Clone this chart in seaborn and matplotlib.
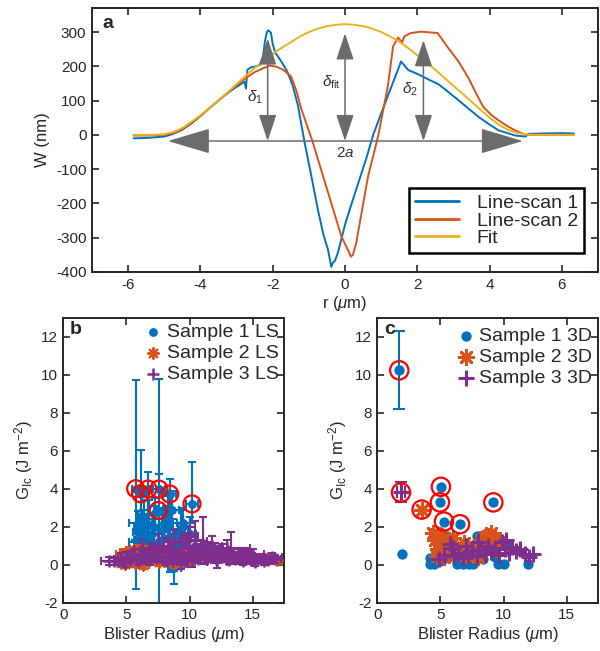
import matplotlib
matplotlib.use("Agg")
import matplotlib.pyplot as plt
from matplotlib.patches import FancyArrowPatch
import pandas as pd
import seaborn as sns

sns.set_theme(style="ticks")
plt.rcParams["font.family"] = ["Liberation Sans", "DejaVu Sans"]
plt.rcParams["mathtext.fontset"] = "custom"
plt.rcParams["mathtext.rm"] = "Liberation Sans"
plt.rcParams["mathtext.it"] = "Liberation Sans:italic"
plt.rcParams["mathtext.bf"] = "Liberation Sans:bold"
plt.rcParams["axes.unicode_minus"] = False
plt.rcParams["xtick.direction"] = "in"
plt.rcParams["ytick.direction"] = "in"
plt.rcParams["axes.edgecolor"] = "#262626"
plt.rcParams["axes.linewidth"] = 1.4

# colores estilo matlab
AZUL = "#0072BD"
LARANJA = "#D95319"
AMARELO = "#EDB120"
ROXO = "#7E2F8E"

# ---- painel a: perfis ----
fit_r = [-5.85, -5.25, -5.0, -4.75, -4.5, -4.25, -4.0, -3.75, -3.5, -3.25, -3.0, -2.75, -2.5,
         -2.25, -2.0, -1.75, -1.5, -1.25, -1.0, -0.75, -0.5, -0.25, 0.0, 0.25, 0.5, 0.75, 1.0,
         1.25, 1.5, 1.75, 2.0, 2.25, 2.5, 2.75, 3.0, 3.25, 3.5, 3.75, 4.0, 4.25, 4.5, 4.75,
         5.0, 5.25, 6.33]
fit_w = [0, 0, 2, 8, 20, 38, 57, 78, 100, 124, 148, 172, 195,
         216, 236, 254, 270, 287, 300, 310, 317, 321, 323, 321, 317, 310, 300,
         287, 272, 253, 232, 211, 190, 166, 143, 120, 97, 73, 50, 30, 15, 6,
         1, 0, 0]

scan1_r = [-5.85, -5.5, -5.0, -4.75, -4.5, -4.25, -4.0, -3.75, -3.5, -3.25, -3.0, -2.85, -2.78,
           -2.74, -2.70, -2.6, -2.45, -2.35, -2.28, -2.22, -2.16, -2.12, -2.05, -2.0, -1.93,
           -1.85, -1.75, -1.6, -1.45, -1.3, -1.12, -0.95, -0.75, -0.6, -0.47, -0.38, -0.33,
           -0.28, -0.2, 0.0, 0.2, 0.4, 0.6, 0.78, 1.0, 1.2, 1.4, 1.55, 1.75, 2.0, 2.3, 2.58,
           2.8, 3.14, 3.4, 3.7, 4.0, 4.25, 4.5, 4.71, 4.99, 5.08, 5.5, 6.0, 6.33]
scan1_w = [-10, -9, -5, 3, 15, 33, 55, 78, 100, 122, 140, 150, 155,
           135, 190, 197, 200, 205, 215, 270, 300, 305, 298, 265, 240,
           228, 212, 185, 145, 85, -21, -110, -218, -290, -335, -385, -372,
           -368, -345, -262, -195, -130, -65, 0, 62, 118, 172, 214, 189, 178, 162, 148,
           130, 101, 78, 52, 30, 13, 5, -2, -5, 3, 4, 5, 4]

scan2_r = [-5.85, -5.5, -5.0, -4.75, -4.5, -4.25, -4.0, -3.75, -3.5, -3.25, -3.0, -2.75, -2.5,
           -2.25, -2.09, -1.9, -1.75, -1.65, -1.49, -1.35, -1.21, -0.89, -0.47, -0.1, 0.1,
           0.16, 0.22, 0.31, 0.64, 0.92, 1.19, 1.33, 1.47, 1.58, 1.64, 1.82, 2.1, 2.56,
           2.86, 3.14, 3.42, 3.65, 3.83, 4.05, 4.25, 4.5, 4.71, 4.99, 5.5, 6.0, 6.33]
scan2_w = [-2, -2, 0, 5, 17, 35, 55, 78, 100, 122, 145, 165, 183,
           195, 202, 199, 192, 185, 170, 130, 76, -22, -168, -296, -340,
           -355, -350, -315, -120, -2, 145, 258, 284, 270, 287, 297, 301, 297,
           253, 214, 165, 116, 81, 58, 42, 25, 13, 0, 0, 0, 0]

# ---- painel b: line-scan ----
b1_x = [5.73, 7.55, 6.13, 6.70, 7.57, 8.43, 10.19, 5.8, 6.0, 6.3, 6.5, 6.8, 7.0, 7.2, 7.5,
        7.8, 8.0, 8.3, 8.7, 9.0, 9.3, 9.6, 10.0, 10.4, 6.6, 8.5, 7.2, 9.8, 6.2, 8.8,
        5.9, 6.4, 6.9, 7.3, 7.7, 8.1, 8.6, 9.1, 9.5, 5.7, 6.1]
b1_y = [4.0, 2.85, 3.73, 3.98, 3.98, 3.72, 3.2, 1.2, 1.3, 2.0, 1.5, 2.1, 1.6, 2.0, 1.2,
        1.8, 1.4, 2.2, 1.5, 1.1, 1.9, 1.3, 1.6, 1.0, 0.9, 0.5, 0.4, 0.2, 0.2, -0.2,
        2.2, 2.5, 1.0, 2.7, 0.8, 2.4, 2.9, 1.6, 2.2, 0.8, 1.7]
b1_ylo = [5.3, 5.2, 1.6, 1.3, 1.0, 4.1, 1.0, 0.6, 0.8, 0.9, 0.7, 1.2, 0.8, 1.1, 0.9,
          0.8, 1.0, 1.4, 0.9, 0.6, 1.0, 0.7, 0.9, 0.5, 0.6, 0.5, 0.4, 0.3, 0.4, 0.8,
          0.6, 0.9, 0.5, 0.8, 0.4, 0.7, 1.0, 0.6, 0.8, 0.5, 0.7]
b1_yhi = [5.74, 6.9, 2.3, 0.9, 0.8, 0.8, 2.2, 0.6, 0.8, 0.9, 0.7, 1.3, 0.8, 1.1, 0.9,
          0.8, 1.0, 1.4, 0.9, 0.6, 1.0, 0.7, 0.9, 0.5, 0.6, 0.5, 0.4, 0.3, 0.4, 0.8,
          0.6, 0.9, 0.5, 0.8, 0.4, 0.7, 1.0, 0.6, 0.8, 0.5, 0.7]
b1_xerr = [0.3, 0.3, 0.4, 0.4, 0.5, 0.5, 0.5, 0.6, 0.4, 0.7, 0.5, 0.5, 0.6, 0.4, 0.5,
           0.6, 0.5, 0.7, 0.4, 0.5, 0.6, 0.4, 0.5, 0.5, 0.4, 0.5, 0.4, 0.5, 0.4, 0.5,
           0.7, 0.4, 0.5, 0.6, 0.4, 0.5, 0.6, 0.4, 0.5, 0.4, 0.6]

b2_x = [4.4, 4.7, 5.0, 5.2, 5.5, 5.7, 6.0, 6.2, 6.5, 6.8, 7.0, 7.3, 7.6, 7.9, 8.2,
        8.5, 8.8, 9.1, 9.4, 9.8, 10.2, 4.9, 5.4, 6.3, 7.1, 8.0, 9.0, 14.8, 16.2, 16.9,
        4.6, 5.1, 5.8, 6.6, 7.4, 8.3, 8.9, 9.6]
b2_y = [0.3, 0.55, 0.2, 0.65, 0.4, 0.1, 0.5, 0.3, 0.7, 0.25, 0.45, 0.6, 0.15, 0.4, 0.55,
        0.3, 0.1, 0.45, 0.35, 0.2, 0.3, 0.05, 0.6, 0.0, 0.7, 0.2, 0.5, 0.3, 0.35, 0.25,
        0.1, 0.45, 0.75, 0.5, 0.3, 0.65, 0.2, 0.55]
b2_yerr = [0.3, 0.25, 0.2, 0.3, 0.25, 0.2, 0.3, 0.25, 0.3, 0.2, 0.25, 0.3, 0.2, 0.25, 0.3,
           0.2, 0.25, 0.3, 0.2, 0.25, 0.3, 0.2, 0.3, 0.25, 0.3, 0.2, 0.25, 0.15, 0.2, 0.15,
           0.2, 0.25, 0.3, 0.2, 0.25, 0.3, 0.2, 0.25]
b2_xerr = [0.4, 0.5, 0.4, 0.6, 0.5, 0.4, 0.6, 0.5, 0.4, 0.5, 0.6, 0.5, 0.4, 0.5, 0.6,
           0.5, 0.4, 0.5, 0.6, 0.5, 0.4, 0.5, 0.6, 0.5, 0.4, 0.5, 0.6, 0.5, 0.6, 0.4,
           0.5, 0.4, 0.6, 0.5, 0.4, 0.5, 0.6, 0.5]

b3_x = [4.0, 4.6, 4.9, 5.3, 5.9, 6.4, 6.9, 7.4, 7.9, 8.4, 8.9, 9.4, 9.9, 10.4, 10.9, 11.4,
        11.9, 12.4, 12.95, 13.4, 13.9, 14.4, 14.9, 15.4, 15.9, 16.5, 6.2, 7.6, 8.8, 9.7,
        10.45, 11.1, 11.8, 12.6, 13.3, 14.1, 9.3, 10.2, 12.2, 15.0,
        3.6, 5.0, 5.6, 6.6, 7.2, 8.1, 8.6, 9.1, 9.6, 10.1, 10.7, 11.2, 11.6, 12.1, 12.7,
        13.1, 13.6, 14.2, 14.7, 15.2, 15.7, 16.2, 16.8, 7.0, 8.3, 11.0, 12.0, 13.8, 10.0]
b3_y = [0.17, 0.3, 0.1, 0.4, 0.2, 0.5, 0.3, 0.6, 0.4, 0.7, 0.5, 0.9, 0.6, 0.8, 0.5, 0.7,
        0.4, 0.6, 0.9, 0.5, 0.35, 0.45, 0.25, 0.3, 0.2, 0.4, 0.8, 1.0, 1.2, 1.27,
        1.3, 1.1, 1.0, 0.7, 0.6, 0.5, 0.05, 0.2, 0.15, 0.55,
        0.2, 0.35, 0.55, 0.25, 0.45, 0.2, 0.35, 0.3, 0.25, 0.45, 0.3, 0.35, 0.55, 0.3, 0.45,
        0.25, 0.3, 0.2, 0.4, 0.15, 0.3, 0.25, 0.3, 0.75, 0.9, 0.65, 0.75, 0.6, 1.5]
b3_ylo = [0.2, 0.3, 0.2, 0.3, 0.2, 0.4, 0.3, 0.4, 0.3, 0.5, 0.4, 0.5, 0.4, 0.5, 0.4, 0.5,
          0.3, 0.4, 0.4, 0.3, 0.3, 0.3, 0.2, 0.2, 0.2, 0.2, 0.5, 0.6, 0.6, 0.4,
          0.6, 0.5, 0.5, 0.4, 0.4, 0.3, 0.3, 0.3, 0.3, 0.3,
          0.2, 0.3, 0.3, 0.2, 0.3, 0.2, 0.3, 0.2, 0.2, 0.3, 0.2, 0.3, 0.3, 0.2, 0.3,
          0.2, 0.2, 0.2, 0.3, 0.2, 0.2, 0.2, 0.2, 0.4, 0.5, 0.4, 0.4, 0.3, 0.5]
b3_yhi = [0.2, 0.3, 0.2, 0.3, 0.2, 0.4, 0.3, 0.4, 0.3, 0.5, 0.4, 0.5, 0.4, 0.5, 0.4, 0.5,
          0.3, 0.4, 0.4, 0.3, 0.3, 0.3, 0.2, 0.2, 0.2, 0.2, 0.5, 0.6, 0.6, 0.4,
          1.0, 1.4, 0.5, 0.4, 1.1, 0.3, 0.3, 0.3, 0.3, 0.3,
          0.2, 0.3, 0.3, 0.2, 0.3, 0.2, 0.3, 0.2, 0.2, 0.3, 0.2, 0.3, 0.3, 0.2, 0.3,
          0.2, 0.2, 0.2, 0.3, 0.2, 0.2, 0.2, 0.2, 0.4, 0.5, 0.4, 0.4, 0.3, 0.5]
b3_xerr = [1.0, 0.6, 0.5, 0.7, 0.6, 0.8, 0.7, 0.9, 0.6, 0.8, 0.7, 0.9, 0.8, 1.0, 0.7, 0.9,
           0.8, 1.0, 1.85, 0.8, 0.9, 0.8, 0.7, 0.8, 0.6, 0.8, 0.6, 0.7, 0.8, 1.7,
           0.6, 0.7, 0.8, 0.9, 0.7, 0.8, 0.6, 0.7, 0.8, 0.9,
           0.6, 0.7, 0.5, 0.8, 0.6, 0.7, 0.9, 0.6, 0.8, 0.7, 0.9, 0.6, 0.8, 0.7, 0.9,
           0.6, 0.8, 0.7, 0.6, 0.8, 0.7, 0.6, 0.45, 0.9, 1.0, 0.8, 1.1, 0.9, 0.7]

b_circ_x = [5.73, 6.13, 6.70, 7.57, 8.43, 7.52, 10.19]
b_circ_y = [4.0, 3.73, 3.98, 3.98, 3.72, 2.85, 3.2]

# ---- painel c: 3D ----
c1_x = [1.74, 1.98, 5.04, 4.96, 5.28, 6.55, 9.19, 5.49, 7.87, 4.17, 4.5, 5.0, 6.28, 6.8, 7.3,
        7.6, 9.58, 10.0, 11.96, 4.2, 4.6, 5.4, 6.0, 6.5, 7.5, 8.4, 9.3, 8.3, 10.3]
c1_y = [10.23, 0.54, 4.1, 3.28, 2.27, 2.13, 3.28, 1.5, 1.5, 0.05, 0.05, 0.2, 0.05, 0.05, 0.05,
        0.05, 0.05, 0.05, 0.05, 0.35, 0.4, 0.35, 0.4, 0.3, 0.4, 0.3, 0.4, 1.45, 1.0]

c2_x = [3.51, 4.43, 4.7, 5.0, 4.6, 4.9, 5.2, 4.8, 5.1, 4.7, 5.3, 5.6, 5.9, 6.3, 6.6, 6.9, 7.2,
        7.0, 7.5, 7.9, 8.2, 8.5, 8.8, 9.0, 9.3, 9.6, 8.0, 6.0, 5.5, 8.6, 9.4]
c2_y = [2.9, 1.66, 1.6, 1.55, 1.3, 1.2, 1.0, 0.8, 0.6, 0.45, 0.4, 0.75, 0.6, 0.85, 0.7, 1.15,
        1.0, 0.5, 0.6, 0.85, 1.3, 1.45, 1.5, 1.66, 1.4, 1.2, 0.4, 1.4, 1.2, 0.9, 0.8]

c3_x = [1.88, 4.9, 5.3, 5.76, 6.1, 6.4, 6.8, 7.2, 7.5, 7.9, 8.2, 8.5, 8.8, 9.0, 9.3, 9.6, 9.9,
        10.1, 10.4, 10.7, 11.0, 11.3, 11.7, 12.0, 12.3, 7.0, 8.0, 10.2, 6.0]
c3_y = [3.8, 0.3, 0.5, 1.1, 0.45, 0.6, 0.35, 0.5, 0.7, 0.45, 0.8, 0.55, 1.0, 0.65, 0.9, 0.5,
        1.2, 0.8, 0.6, 0.95, 0.7, 0.85, 0.55, 0.4, 0.55, 1.0, 1.2, 1.3, 0.9]

c_circ_x = [1.74, 1.88, 3.51, 5.04, 4.96, 5.28, 6.55, 9.19]
c_circ_y = [10.23, 3.8, 2.9, 4.1, 3.28, 2.27, 2.13, 3.28]

ASTERISCO = (8, 2, 0)

fig = plt.figure(figsize=(6.0, 6.51), dpi=100)
ax_a = fig.add_axes([0.1533, 0.5822, 0.8434, 0.4055])
ax_b = fig.add_axes([0.1055, 0.0742, 0.3683, 0.4378])
ax_c = fig.add_axes([0.6288, 0.0742, 0.3683, 0.4378])


def caixa(ax):
    # estilo matlab: box fechado, ticks para dentro nos 4 lados
    for s in ax.spines.values():
        s.set_visible(True)
    ax.tick_params(top=True, right=True, length=5, width=1.2, labelsize=11, pad=4,
                   colors="#262626")


# painel a
perfis = pd.concat([
    pd.DataFrame({"r": scan1_r, "W": scan1_w, "serie": "Line-scan 1"}),
    pd.DataFrame({"r": scan2_r, "W": scan2_w, "serie": "Line-scan 2"}),
    pd.DataFrame({"r": fit_r, "W": fit_w, "serie": "Fit"}),
])
sns.lineplot(data=perfis, x="r", y="W", hue="serie", sort=False, estimator=None,
             palette=[AZUL, LARANJA, AMARELO], linewidth=1.4, ax=ax_a)

cinza = "#6b6b6b"
y_base = -18
for xa, ytop in [(-2.14, 281), (0.0, 296), (2.17, 276)]:
    ax_a.add_patch(FancyArrowPatch((xa, y_base), (xa, ytop),
                                   arrowstyle="<|-|>,head_length=1.65,head_width=0.55",
                                   mutation_scale=10, color=cinza, lw=1.1,
                                   shrinkA=0, shrinkB=0, zorder=5))
ax_a.add_patch(FancyArrowPatch((-4.9, y_base), (4.92, y_base),
                               arrowstyle="<|-|>,head_length=2.7,head_width=0.8",
                               mutation_scale=10, color=cinza, lw=1.1,
                               shrinkA=0, shrinkB=0, zorder=5))
ax_a.text(-2.28, 110, r"$\delta_1$", ha="right", va="center", fontsize=11, color="#333333")
ax_a.text(-0.12, 154, r"$\delta_{\rm fit}$", ha="right", va="center", fontsize=11, color="#333333")
ax_a.text(2.02, 132, r"$\delta_2$", ha="right", va="center", fontsize=11, color="#333333")
ax_a.text(0.0, -52, r"2$a$", ha="center", va="center", fontsize=11, color="#333333")

ax_a.set_xlim(-7, 7)
ax_a.set_ylim(-400, 370)
ax_a.set_xticks(range(-6, 7, 2))
ax_a.set_yticks(range(-400, 301, 100))
ax_a.set_xlabel(r"r ($\mu$m)", fontsize=12, labelpad=2)
ax_a.set_ylabel("W (nm)", fontsize=12, labelpad=4)
caixa(ax_a)
ax_a.text(0.02, 0.975, "a", transform=ax_a.transAxes, ha="left", va="top",
          fontsize=14, fontweight="bold")
leg = ax_a.legend(loc="lower right", bbox_to_anchor=(0.972, 0.072), fontsize=14,
                  handlelength=2.3, handletextpad=0.9, labelspacing=0.0, borderpad=0.3,
                  borderaxespad=0, fancybox=False, framealpha=1)
leg.get_frame().set_edgecolor("black")
leg.get_frame().set_linewidth(1.8)
for ln in leg.get_lines():
    ln.set_linewidth(2.0)


def circulos(ax, xs, ys, tam):
    sns.scatterplot(x=xs, y=ys, marker="o", s=tam, facecolor="none", edgecolor="#FF0000",
                    linewidth=1.6, ax=ax, zorder=10, legend=False)


# painel b
ax_b.errorbar(b1_x, b1_y, yerr=[b1_ylo, b1_yhi], xerr=b1_xerr, fmt="none", ecolor=AZUL,
              elinewidth=1.5, capsize=3, capthick=1.5, zorder=2)
sns.scatterplot(x=b1_x, y=b1_y, marker="o", s=40, color=AZUL, edgecolor=AZUL, linewidth=0,
                label="Sample 1 LS", ax=ax_b, zorder=3)
ax_b.errorbar(b2_x, b2_y, yerr=b2_yerr, xerr=b2_xerr, fmt="none", ecolor=LARANJA,
              elinewidth=1.5, capsize=3, capthick=1.5, zorder=4)
sns.scatterplot(x=b2_x, y=b2_y, marker=ASTERISCO, s=60, color=LARANJA, edgecolor=LARANJA,
                linewidth=1.5, label="Sample 2 LS", ax=ax_b, zorder=5)
ax_b.errorbar(b3_x, b3_y, yerr=[b3_ylo, b3_yhi], xerr=b3_xerr, fmt="none", ecolor=ROXO,
              elinewidth=1.5, capsize=3, capthick=1.5, zorder=6)
sns.scatterplot(x=b3_x, y=b3_y, marker="+", s=70, color=ROXO, edgecolor=ROXO,
                linewidth=1.8, label="Sample 3 LS", ax=ax_b, zorder=7)
circulos(ax_b, b_circ_x, b_circ_y, 150)

# painel c
ax_c.errorbar([c1_x[0]], [c1_y[0]], yerr=[[2.03], [2.05]], fmt="none", ecolor=AZUL,
              elinewidth=1.5, capsize=4, capthick=1.5, zorder=2)
ax_c.errorbar([c3_x[0]], [c3_y[0]], yerr=[[0.52], [0.53]], xerr=0.3, fmt="none", ecolor=ROXO,
              elinewidth=1.5, capsize=4, capthick=1.5, zorder=2)
sns.scatterplot(x=c1_x, y=c1_y, marker="o", s=55, color=AZUL, edgecolor=AZUL, linewidth=0,
                label="Sample 1 3D", ax=ax_c, zorder=3)
sns.scatterplot(x=c2_x, y=c2_y, marker=ASTERISCO, s=110, color=LARANJA, edgecolor=LARANJA,
                linewidth=2.0, label="Sample 2 3D", ax=ax_c, zorder=4)
sns.scatterplot(x=c3_x, y=c3_y, marker="+", s=120, color=ROXO, edgecolor=ROXO,
                linewidth=2.2, label="Sample 3 3D", ax=ax_c, zorder=5)
circulos(ax_c, c_circ_x, c_circ_y, 175)

for ax, letra, topo in [(ax_b, "b", 1.0), (ax_c, "c", 0.985)]:
    ax.set_xlim(0, 17.5)
    ax.set_ylim(-2, 13)
    ax.set_xticks([0, 5, 10, 15])
    ax.set_yticks(range(-2, 13, 2))
    ax.set_xlabel(r"Blister Radius ($\mu$m)", fontsize=12, labelpad=2)
    ax.set_ylabel(r"G$_{\rm Ic}$ (J m$^{-2}$)", fontsize=12, labelpad=4)
    caixa(ax)
    ax.text(0.03, 0.99, letra, transform=ax.transAxes, ha="left", va="top",
            fontsize=14, fontweight="bold")
    lg = ax.legend(loc="upper right", bbox_to_anchor=(1.0, topo), fontsize=14, frameon=False,
                   handlelength=0.8, handletextpad=0.3, labelspacing=0.17, borderpad=0.2,
                   borderaxespad=0.1)

plt.savefig("out.png", dpi=100)
